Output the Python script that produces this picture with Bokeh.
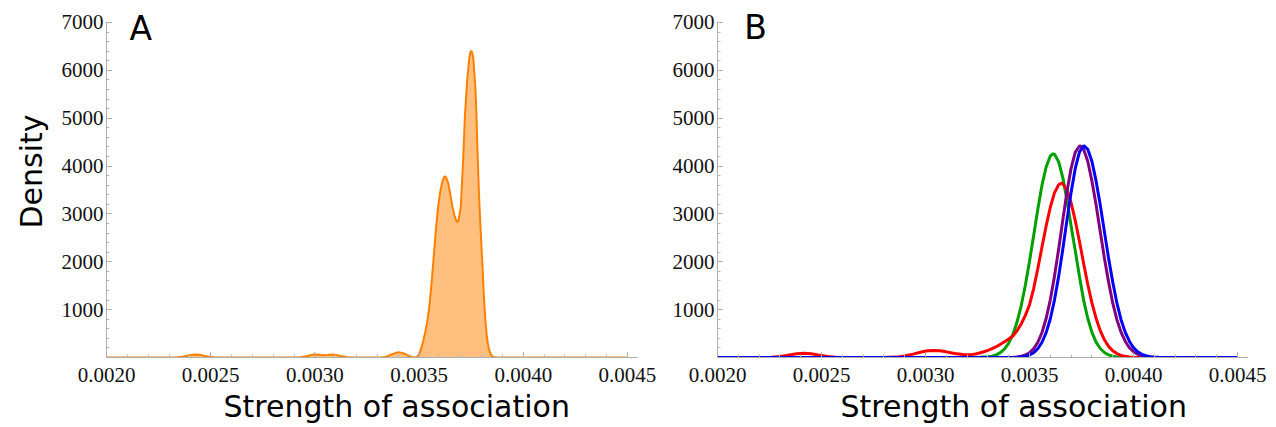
from bokeh.plotting import figure
from bokeh.layouts import row
from bokeh.models import FixedTicker, Label, Range1d, NumeralTickFormatter, Title
from bokeh.embed import file_html
from bokeh.resources import INLINE

# ---------------- data (x in units of 1e-3, density) ----------------
a_x = [2.000, 2.300, 2.340, 2.370, 2.400, 2.427, 2.455, 2.485, 2.515, 2.550,
       2.900, 2.930, 2.960, 2.985, 3.000, 3.020, 3.040, 3.060, 3.083, 3.105,
       3.130, 3.160, 3.200, 3.320, 3.345, 3.370, 3.400, 3.425, 3.450, 3.470,
       3.480, 3.490, 3.500, 3.510, 3.520, 3.530, 3.540, 3.550, 3.560, 3.570,
       3.580, 3.590, 3.600, 3.610, 3.620, 3.625, 3.630, 3.640, 3.650, 3.660,
       3.670, 3.680, 3.685, 3.690, 3.700, 3.710, 3.720, 3.730, 3.740, 3.745,
       3.750, 3.755, 3.760, 3.770, 3.775, 3.780, 3.785, 3.790, 3.795, 3.800,
       3.805, 3.810, 3.815, 3.820, 3.825, 3.830, 3.835, 3.840, 3.845, 3.850,
       3.860, 3.870, 4.500]
a_d = [0, 0, 5, 22, 50, 63, 50, 20, 4, 0,
       0, 5, 28, 56, 64, 55, 45, 52, 62, 50,
       24, 5, 0, 0, 20, 70, 112, 90, 35, 5,
       2, 12, 60, 190, 350, 540, 770, 1100, 1560, 2100,
       2640, 3100, 3430, 3650, 3770, 3785, 3760, 3640, 3400, 3150,
       2960, 2840, 2830, 2880, 3150, 4000, 5050, 5750, 6230, 6360,
       6410, 6370, 6250, 5650, 5100, 4350, 3700, 3150, 2700, 2250,
       1850, 1350, 980, 680, 450, 290, 180, 110, 60, 30,
       5, 0, 0]

green_x = [2.000, 3.200, 3.260, 3.300, 3.320, 3.340, 3.360, 3.380, 3.400, 3.420,
           3.440, 3.460, 3.480, 3.500, 3.520, 3.540, 3.560, 3.580, 3.600, 3.614,
           3.620, 3.640, 3.660, 3.680, 3.700, 3.720, 3.740, 3.760, 3.780, 3.800,
           3.820, 3.840, 3.860, 3.880, 3.900, 3.920, 3.950, 4.000, 4.500]
green_d = [0, 0, 3, 14, 29, 55, 102, 180, 300, 480,
           740, 1080, 1510, 2010, 2550, 3100, 3600, 3980, 4210, 4256,
           4247, 4090, 3760, 3290, 2750, 2230, 1700, 1200, 820, 525,
           320, 188, 105, 55, 27, 12, 3, 0, 0]

red_x = [2.000, 2.200, 2.260, 2.300, 2.340, 2.380, 2.415, 2.450, 2.490, 2.530,
         2.570, 2.620, 2.800, 2.860, 2.900, 2.940, 2.980, 3.010, 3.040, 3.070,
         3.100, 3.140, 3.180, 3.200, 3.220, 3.240, 3.260, 3.280, 3.300, 3.320,
         3.340, 3.360, 3.380, 3.400, 3.420, 3.440, 3.460, 3.480, 3.500, 3.520,
         3.540, 3.560, 3.580, 3.600, 3.620, 3.640, 3.652, 3.660, 3.680, 3.700,
         3.720, 3.740, 3.760, 3.780, 3.800, 3.820, 3.840, 3.860, 3.880, 3.900,
         3.920, 3.940, 3.960, 3.980, 4.000, 4.050, 4.500]
red_d = [0, 0, 5, 20, 50, 80, 90, 80, 50, 20,
         5, 0, 0, 8, 30, 70, 115, 140, 146, 140,
         118, 85, 62, 58, 60, 72, 95, 120, 150, 185,
         225, 275, 330, 385, 450, 560, 700, 880, 1100, 1440,
         1860, 2310, 2750, 3140, 3440, 3610, 3642, 3630, 3500, 3230,
         2860, 2430, 1970, 1530, 1140, 820, 560, 370, 232, 140,
         82, 45, 24, 12, 6, 0, 0]

purple_x = [2.000, 3.380, 3.420, 3.440, 3.460, 3.480, 3.500, 3.520, 3.540, 3.560,
            3.580, 3.600, 3.620, 3.640, 3.660, 3.680, 3.700, 3.720, 3.742, 3.760,
            3.780, 3.800, 3.820, 3.840, 3.860, 3.880, 3.900, 3.920, 3.940, 3.960,
            3.980, 4.000, 4.020, 4.040, 4.060, 4.080, 4.100, 4.150, 4.500]
purple_d = [0, 0, 4, 12, 26, 53, 100, 184, 318, 522,
            814, 1205, 1695, 2263, 2870, 3457, 3953, 4290, 4430, 4350,
            4100, 3690, 3190, 2630, 2080, 1580, 1140, 790, 530, 340,
            205, 120, 67, 36, 18, 9, 4, 0, 0]

blue_x = [2.000, 3.400, 3.440, 3.460, 3.480, 3.500, 3.520, 3.540, 3.560, 3.580,
          3.600, 3.620, 3.640, 3.660, 3.680, 3.700, 3.720, 3.740, 3.761, 3.780,
          3.800, 3.820, 3.840, 3.860, 3.880, 3.900, 3.920, 3.940, 3.960, 3.980,
          4.000, 4.020, 4.040, 4.060, 4.080, 4.100, 4.120, 4.170, 4.500]
blue_d = [0, 0, 4, 12, 26, 53, 100, 184, 318, 520,
          810, 1200, 1690, 2260, 2870, 3450, 3950, 4290, 4430, 4350,
          4100, 3690, 3190, 2630, 2080, 1580, 1140, 790, 530, 340,
          205, 120, 67, 36, 18, 9, 4, 0, 0]

x_major = [0.0020, 0.0025, 0.0030, 0.0035, 0.0040, 0.0045]
y_major = [1000, 2000, 3000, 4000, 5000, 6000, 7000]


def k(xs):
    return [v * 1e-3 for v in xs]


x_minor = [0.0020 + i * 0.0001 for i in range(26)]
y_minor = [i * 200 for i in range(1, 36)]

SERIF = "Liberation Serif"
SANS = "DejaVu Sans"
Y_TOP = 7459   # frame reaches the top of the canvas; the axis line stops at 7020


def title(text, offset, standoff):
    return Title(text=text, align="left", offset=offset, standoff=standoff,
                 text_font=SANS, text_font_size="30px", text_font_style="normal",
                 text_color="black")


def style(p, xoffset, ylabel=None):
    p.xgrid.visible = False
    p.ygrid.visible = False
    p.outline_line_color = None
    p.background_fill_color = "white"
    p.border_fill_color = "white"
    p.xaxis.ticker = FixedTicker(ticks=x_major, minor_ticks=x_minor)
    p.yaxis.ticker = FixedTicker(ticks=y_major, minor_ticks=y_minor)
    p.xaxis.formatter = NumeralTickFormatter(format="0.0000")
    p.yaxis.formatter = NumeralTickFormatter(format="0")
    p.yaxis.bounds = (0, 7020)
    for ax in (p.xaxis, p.yaxis):
        ax.axis_line_color = "#b0b0b0"
        ax.axis_line_width = 1
        ax.major_tick_line_color = "#999999"
        ax.minor_tick_line_color = "#b8b8b8"
        ax.major_tick_in = 5
        ax.major_tick_out = 0
        ax.minor_tick_in = 3
        ax.minor_tick_out = 0
        ax.major_label_text_font = SERIF
        ax.major_label_text_font_size = "21px"
        ax.major_label_text_color = "#111111"
    p.xaxis.major_label_standoff = 10
    p.yaxis.major_label_standoff = 3
    p.add_layout(title("Strength of association", xoffset, 5), "below")
    if ylabel:
        p.add_layout(title(ylabel, 129, 19), "left")


pA = figure(width=662, height=427, x_range=Range1d(0.0020, 0.004548),
            y_range=Range1d(0, Y_TOP), output_backend="svg", toolbar_location=None,
            min_border_left=106, min_border_right=25, min_border_top=0,
            min_border_bottom=70)
style(pA, 117, "Density")
pA.varea(x=k(a_x), y1=[0] * len(a_d), y2=a_d, fill_color="#FF8000", fill_alpha=0.5)
pA.line(k(a_x), a_d, line_color="#FF8000", line_width=2)
pA.add_layout(Label(x=0.00211, y=6874, text="A", text_font=SANS,
                    text_font_size="33px", text_color="black",
                    text_baseline="alphabetic"))

pB = figure(width=614, height=427, x_range=Range1d(0.0020, 0.004548),
            y_range=Range1d(0, Y_TOP), output_backend="svg", toolbar_location=None,
            min_border_left=55, min_border_right=29, min_border_top=0,
            min_border_bottom=70)
style(pB, 123)
pB.line(k(green_x), green_d, line_color="#00A000", line_width=3)
pB.line(k(red_x), red_d, line_color="#FF0000", line_width=3)
pB.line(k(purple_x), purple_d, line_color="#800080", line_width=3)
pB.line(k(blue_x), blue_d, line_color="#0000FF", line_width=3)
pB.add_layout(Label(x=0.002129, y=6895, text="B", text_font=SANS,
                    text_font_size="33px", text_color="black",
                    text_baseline="alphabetic"))

layout = row(pA, pB)
open("out.html", "w").write(file_html(layout, INLINE))
